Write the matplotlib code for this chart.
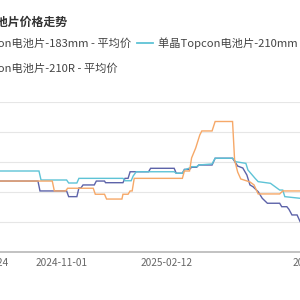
import datetime as dt
import matplotlib
matplotlib.use("Agg")
import matplotlib.pyplot as plt
import matplotlib.dates as mdates
from matplotlib.lines import Line2D

plt.rcParams['font.family'] = ['Noto Sans CJK SC', 'DejaVu Sans']

title = "单晶Topcon电池片价格走势"
names = ["单晶Topcon电池片-183mm - 平均价",
         "单晶Topcon电池片-210mm - 平均价",
         "单晶Topcon电池片-210R - 平均价"]
colors = ["#5d63a9", "#5ec3d6", "#f6a868"]

# 单晶Topcon电池片-183mm (元/W)
d183 = ["2024-08-01", "2024-10-09", "2024-10-11", "2024-11-06", "2024-11-08", "2024-11-16",
        "2024-11-18", "2024-11-20", "2024-11-22", "2024-12-03", "2024-12-05", "2024-12-13",
        "2024-12-14", "2024-12-31", "2025-01-02", "2025-01-05", "2025-01-07", "2025-01-25",
        "2025-01-27", "2025-02-19", "2025-02-21", "2025-02-27", "2025-03-01", "2025-03-06",
        "2025-03-08", "2025-03-13", "2025-03-15", "2025-03-28", "2025-03-31", "2025-04-17",
        "2025-04-22", "2025-04-27", "2025-05-01", "2025-05-04", "2025-05-07", "2025-05-12",
        "2025-05-16", "2025-05-21", "2025-06-02", "2025-06-04", "2025-06-09", "2025-06-11",
        "2025-06-14", "2025-06-19", "2025-06-22", "2025-07-25"]
v183 = [0.2673, 0.2673, 0.2607, 0.2607, 0.2569, 0.2569,
        0.2627, 0.2627, 0.2647, 0.2647, 0.2673, 0.2673,
        0.2662, 0.2662, 0.2691, 0.2691, 0.2735, 0.2735,
        0.2758, 0.2758, 0.2725, 0.2725, 0.2751, 0.2751,
        0.2765, 0.2765, 0.2780, 0.2780, 0.2825, 0.2825,
        0.2773, 0.2760, 0.2713, 0.2647, 0.2635, 0.2602,
        0.2558, 0.2525, 0.2525, 0.2502, 0.2502, 0.2485,
        0.2447, 0.2447, 0.2402, 0.2402]

# 单晶Topcon电池片-210mm (元/W)
d210 = ["2024-08-01", "2024-10-10", "2024-10-12", "2024-11-06", "2024-11-08", "2024-11-16",
        "2024-11-18", "2024-12-31", "2025-01-02", "2025-01-08", "2025-01-10", "2025-01-13",
        "2025-02-19", "2025-02-21", "2025-02-27", "2025-03-01", "2025-03-06", "2025-03-08",
        "2025-03-13", "2025-03-15", "2025-03-28", "2025-03-31", "2025-04-17", "2025-04-20",
        "2025-04-30", "2025-05-02", "2025-05-09", "2025-05-12", "2025-05-24", "2025-06-02",
        "2025-06-05", "2025-06-07", "2025-06-22", "2025-07-25"]
v210 = [0.2740, 0.2740, 0.2680, 0.2680, 0.2660, 0.2660,
        0.2691, 0.2691, 0.2675, 0.2675, 0.2707, 0.2735,
        0.2735, 0.2725, 0.2725, 0.2747, 0.2760, 0.2769,
        0.2769, 0.2780, 0.2787, 0.2825, 0.2825, 0.2802,
        0.2791, 0.2747, 0.2691, 0.2669, 0.2658, 0.2613,
        0.2613, 0.2569, 0.2558, 0.2558]

# 单晶Topcon电池片-210R (元/W)
d210r = ["2024-08-01", "2024-10-23", "2024-10-25", "2024-11-05", "2024-11-07", "2024-12-02",
         "2024-12-04", "2024-12-13", "2024-12-15", "2024-12-30", "2024-12-31", "2025-01-05",
         "2025-01-07", "2025-01-09", "2025-01-11", "2025-02-27", "2025-03-01", "2025-03-06",
         "2025-03-08", "2025-03-12", "2025-03-16", "2025-03-18", "2025-03-28", "2025-03-31",
         "2025-04-17", "2025-04-19", "2025-04-22", "2025-04-25", "2025-05-04", "2025-05-08",
         "2025-05-12", "2025-06-02", "2025-06-05", "2025-07-25"]
v210r = [0.2673, 0.2673, 0.2607, 0.2607, 0.2625, 0.2625,
         0.2585, 0.2585, 0.2553, 0.2553, 0.2585, 0.2585,
         0.2607, 0.2607, 0.2691, 0.2691, 0.2740, 0.2740,
         0.2827, 0.2893, 0.2980, 0.3007, 0.3007, 0.3070,
         0.3070, 0.2813, 0.2733, 0.2687, 0.2667, 0.2647,
         0.2587, 0.2587, 0.2607, 0.2607]

tick_dates = ["2024-08-16", "2024-11-01", "2025-02-12", "2025-07-10"]
tick_labels = ["2024-07-24", "2024-11-01", "2025-02-12", "2025-07-10"]
y_ticks = [0.22, 0.24, 0.26, 0.28, 0.30, 0.32]


def to_dates(lst):
    return [dt.datetime.strptime(s, "%Y-%m-%d") for s in lst]


fig = plt.figure(figsize=(3, 3), dpi=100)
# plot area runs past the canvas on both sides (the screenshot is a crop)
ax = fig.add_axes([-0.1, 0.16, 1.2, 0.5])

for d, v, c in zip([d183, d210, d210r], [v183, v210, v210r], colors):
    ax.plot(to_dates(d), v, color=c, lw=1.0, solid_joinstyle='miter')

px_day = 105.5 / 103.0
base = mdates.date2num(dt.datetime(2024, 11, 1))
ax.set_xlim(base + (-30 - 61.5) / px_day, base + (330 - 61.5) / px_day)
ax.set_ylim(y_ticks[0], y_ticks[-1])
ax.set_yticks(y_ticks)
ax.tick_params(axis='y', left=False, labelleft=False)
ax.set_xticks(mdates.date2num(to_dates(tick_dates)))
ax.set_xticklabels(tick_labels)
ax.tick_params(axis='x', length=0, pad=4, labelsize=7.3, labelcolor='#666666')
ax.grid(axis='y', color='#e6e6e6', lw=0.8)
ax.grid(axis='x', visible=False)
for s in ['top', 'left', 'right']:
    ax.spines[s].set_visible(False)
ax.spines['bottom'].set_color('#bdbdbd')
ax.spines['bottom'].set_linewidth(1.3)
ax.set_axisbelow(True)

fig.text(68 / 300, 1 - 22.5 / 300, title, ha='right', va='center',
         fontsize=8.6, fontweight='bold', color='#333333')

# legend, laid out by hand
fs = 8.1
fig.text(131 / 300, 1 - 43 / 300, names[0], ha='right', va='center', fontsize=fs, color='#444444')
fig.add_artist(Line2D([137 / 300, 153 / 300], [1 - 43 / 300] * 2, color=colors[1], lw=1.3))
fig.text(158 / 300, 1 - 43 / 300, names[1], ha='left', va='center', fontsize=fs, color='#444444')
fig.text(118 / 300, 1 - 68 / 300, names[2], ha='right', va='center', fontsize=fs, color='#444444')

fig.savefig("out.png", dpi=100)
